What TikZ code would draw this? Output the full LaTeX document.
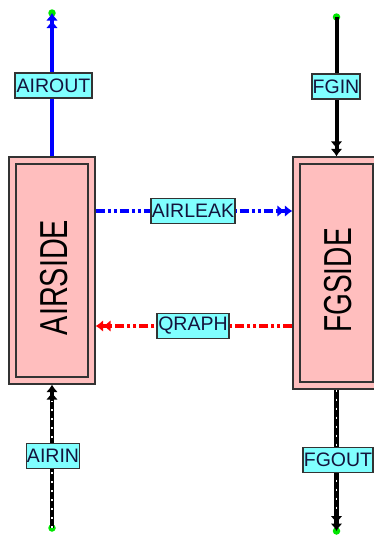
\documentclass[tikz,border=0pt]{standalone}
\usepackage{fontspec}
\setmainfont{Liberation Sans}
\usepackage{graphicx}
\usetikzlibrary{arrows.meta}
\definecolor{boxpink}{RGB}{255,190,190}
\definecolor{labcyan}{RGB}{128,255,255}
\definecolor{dotgreen}{RGB}{0,230,0}
\definecolor{labtext}{RGB}{20,20,60}
\begin{document}
\begin{tikzpicture}[x=1pt,y=-1pt,
 side/.style={draw=black!80, line width=1.3pt, fill=boxpink, inner sep=0pt},
 innerbox/.style={draw=black!80, line width=1.3pt, inner sep=0pt},
 lab/.style={draw=black!80, line width=1.3pt, fill=labcyan, font=\fontsize{19.5}{19.5}\selectfont, text=labtext, inner xsep=0.5pt, inner ysep=0pt, minimum height=25pt},
 big/.style={font=\fontsize{39}{39}\selectfont, rotate=90, inner sep=0pt},
 gdot/.style={circle, fill=dotgreen, inner sep=0pt, minimum size=7.5pt},
 tipA/.style={-{Latex[length=7.5pt,width=12pt]Latex[length=7.5pt,width=12pt]}},
 flowline/.style={line width=4pt, tipA},
 dashdotline/.style={line width=4pt, tipA, dash pattern=on 9pt off 3pt on 3pt off 3pt on 3pt off 3pt},
 hatchback/.style={black, line width=4.5pt, tipA},
 hatchfront/.style={white, line width=1.5pt, dash pattern=on 2pt off 7pt}
]
\clip (0,0) rectangle (374,536);
% blocks
\node[side, minimum width=86pt, minimum height=227pt] (air) at (52,270.5) {};
\node[innerbox, minimum width=72pt, minimum height=213pt] (airin) at (air) {};
\node[big] (airt) at (54,277.5) {\scalebox{0.74}[1]{AIRSIDE}};
\node[side, minimum width=87pt, minimum height=232pt] (fg) at (336.5,273) {};
\node[innerbox, minimum width=73pt, minimum height=218pt] (fgin) at (fg) {};
\node[big] (fgt) at (338,280.5) {\scalebox{0.72}[1]{FGSIDE}};
% end dots
\node[gdot] (ao) at (52,13) {};
\node[gdot] (fi) at (336.5,17) {};
\node[gdot] (ai) at (52,528) {};
\node[gdot] (fo) at (336.5,531) {};
% label positions
\coordinate (alpos) at (193,211);
\coordinate (qrpos) at (193,326);
% connectors
\draw[blue, flowline] (air.north) -- (ao.center);
\draw[black, flowline] (fi.center) -- (fg.north);
\draw[blue, dashdotline] (air.east |- alpos) -- (fg.west |- alpos);
\draw[red, dashdotline] (fg.west |- qrpos) -- (air.east |- qrpos);
\draw[hatchback] (ai.center) -- (air.south);
\draw[hatchfront] (ai.center) -- ([yshift=-16pt]air.south);
\draw[hatchback] (fg.south) -- (fo.center);
\draw[hatchfront] (fg.south) -- ([yshift=16pt]fo.center);
% labels
\node[lab, minimum width=77pt] (l1) at (53.5,85.5) {AIROUT};
\node[lab, minimum width=48pt] (l2) at (336,86.5) {FGIN};
\node[lab, minimum width=84pt] (l3) at (alpos) {AIRLEAK};
\node[lab, minimum width=72pt] (l4) at (qrpos) {QRAPH};
\node[lab, minimum width=52pt] (l5) at (53,456) {AIRIN};
\node[lab, minimum width=70pt] (l6) at (338,460) {FGOUT};
\end{tikzpicture}
\end{document}
